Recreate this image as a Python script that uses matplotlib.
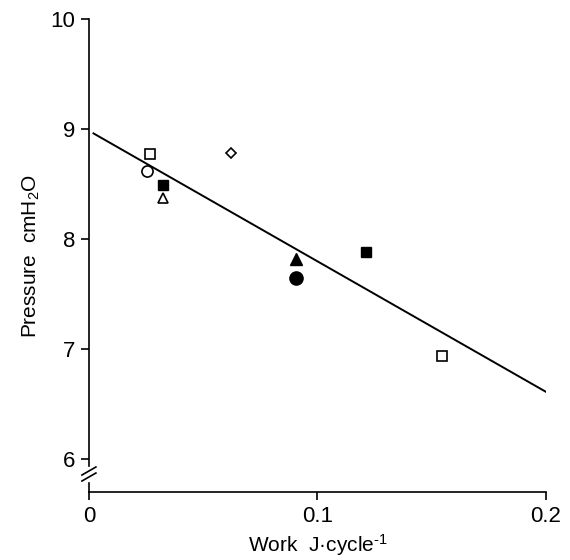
import matplotlib
matplotlib.use('Agg')
import matplotlib.pyplot as plt

plt.rcParams['font.family'] = ['Liberation Sans', 'DejaVu Sans']
plt.rcParams['mathtext.default'] = 'regular'

# data
open_sq_x = [0.0267, 0.1545]
open_sq_y = [8.77, 6.94]
filled_sq_x = [0.0325, 0.1211]
filled_sq_y = [8.49, 7.88]
open_circ_x = [0.0252]
open_circ_y = [8.62]
filled_circ_x = [0.0906]
filled_circ_y = [7.65]
open_tri_x = [0.0325]
open_tri_y = [8.37]
filled_tri_x = [0.0906]
filled_tri_y = [7.82]
diamond_x = [0.0621]
diamond_y = [8.78]
fit_x = [0.002, 0.2]
fit_y = [8.96, 6.61]

fig = plt.figure(figsize=(5.7, 5.6), dpi=100)
ax = fig.add_axes([0.156, 0.1214, 0.802, 0.8447])

ax.plot(fit_x, fit_y, 'k-', linewidth=1.4)
ax.plot(open_sq_x, open_sq_y, 's', mfc='white', mec='black', mew=1.2, ms=7)
ax.plot(filled_sq_x, filled_sq_y, 's', mfc='black', mec='black', ms=7)
ax.plot(open_circ_x, open_circ_y, 'o', mfc='white', mec='black', mew=1.2, ms=8)
ax.plot(filled_circ_x, filled_circ_y, 'o', mfc='black', mec='black', ms=9.5)
ax.plot(open_tri_x, open_tri_y, '^', mfc='white', mec='black', mew=1.2, ms=7)
ax.plot(filled_tri_x, filled_tri_y, '^', mfc='black', mec='black', ms=8)
ax.plot(diamond_x, diamond_y, 'D', mfc='white', mec='black', mew=1.2, ms=5)

ax.set_xlim(0, 0.2)
ax.set_ylim(5.7, 10)
ax.set_xticks([0, 0.1, 0.2])
ax.set_xticklabels(['0', '0.1', '0.2'])
ax.set_yticks([6, 7, 8, 9, 10])
ax.tick_params(direction='out', length=6, width=1.2, labelsize=16, pad=4)

for s in ['top', 'right', 'left']:
    ax.spines[s].set_visible(False)
ax.spines['bottom'].set_linewidth(1.2)

# broken y axis
ax.plot([0, 0], [5.936, 10], color='black', lw=1.2, clip_on=False,
        transform=ax.get_yaxis_transform())
ax.plot([0, 0], [5.7, 5.78], color='black', lw=1.2, clip_on=False,
        transform=ax.get_yaxis_transform())
for yc in [0.0444, 0.0317]:
    ax.plot([-0.0153, 0.0153], [yc - 0.0085, yc + 0.0085], color='black',
            lw=1.2, clip_on=False, transform=ax.transAxes)

ax.set_xlabel('Work  J·cycle$^{\u2010 1}$', fontsize=15, labelpad=4)
ax.set_ylabel('Pressure  cmH$_2$O', fontsize=15, labelpad=6)

fig.savefig('out.png', dpi=100)
